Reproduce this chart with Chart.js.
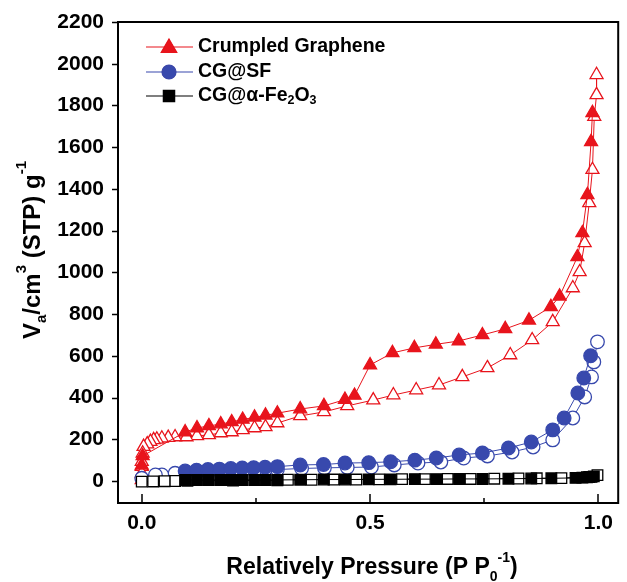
<!DOCTYPE html>
<html><head><meta charset="utf-8">
<script src="https://cdn.jsdelivr.net/npm/chart.js@4/dist/chart.umd.min.js"></script>
<style>html,body{margin:0;padding:0;background:#fff}#wrap{width:627px;height:582px}</style>
</head><body><div id="wrap"><canvas id="c" width="627" height="582"></canvas></div>
<script>
// ---- tick labels ----
const xTicks = [0, 0.25, 0.5, 0.75, 1.0];
const xTickLabels = ['0.0', '', '0.5', '', '1.0'];
const yTicks = [0, 200, 400, 600, 800, 1000, 1200, 1400, 1600, 1800, 2000, 2200];
const yTickLabels = ['0', '200', '400', '600', '800', '1000', '1200', '1400', '1600', '1800', '2000', '2200'];
const seriesNames = ['Crumpled Graphene', 'CG@SF', 'CG@\u03b1-Fe2O3'];

// ---- Crumpled Graphene ----
const cgAdsP = [0.000, 0.002, 0.095, 0.121, 0.147, 0.173, 0.197, 0.221, 0.247, 0.271, 0.297, 0.347, 0.399, 0.445, 0.466, 0.500, 0.549, 0.597, 0.644, 0.694, 0.746, 0.796, 0.848, 0.896, 0.915, 0.954, 0.965, 0.976, 0.984, 0.987];
const cgAdsV = [75, 120, 235, 254, 264, 273, 283, 295, 305, 315, 325, 345, 360, 390, 410, 556, 614, 638, 655, 671, 700, 729, 770, 835, 885, 1074, 1189, 1372, 1626, 1765];
const cgDesP = [0.996, 0.996, 0.991, 0.987, 0.980, 0.970, 0.959, 0.944, 0.900, 0.855, 0.807, 0.757, 0.702, 0.651, 0.601, 0.551, 0.507, 0.450, 0.399, 0.347, 0.297, 0.271, 0.247, 0.221, 0.197, 0.173, 0.147, 0.121, 0.098, 0.073, 0.058, 0.044, 0.033, 0.026, 0.019, 0.012, 0.004, 0.002, 0.000, 0.000, 0.000, 0.000];
const cgDesV = [1947, 1851, 1746, 1492, 1333, 1141, 1002, 925, 763, 676, 604, 542, 499, 460, 436, 412, 388, 360, 331, 312, 278, 259, 254, 245, 235, 230, 221, 216, 211, 211, 208, 205, 200, 197, 189, 177, 165, 133, 93, 69, 37, 5];

// ---- CG@SF ----
const sfAdsP = [0.095, 0.120, 0.145, 0.170, 0.195, 0.220, 0.245, 0.270, 0.297, 0.347, 0.398, 0.445, 0.497, 0.545, 0.598, 0.645, 0.695, 0.746, 0.803, 0.853, 0.900, 0.925, 0.955, 0.968, 0.983];
const sfAdsV = [48, 52, 55, 57, 60, 62, 64, 66, 69, 77, 79, 86, 88, 92, 100, 110, 125, 134, 158, 187, 245, 302, 422, 494, 600];
const sfDesP = [0.998, 0.990, 0.985, 0.970, 0.944, 0.900, 0.857, 0.811, 0.757, 0.705, 0.655, 0.605, 0.553, 0.503, 0.450, 0.400, 0.350, 0.297, 0.270, 0.247, 0.221, 0.197, 0.173, 0.147, 0.121, 0.098, 0.073, 0.044, 0.030, 0.000];
const sfDesV = [667, 571, 499, 403, 302, 197, 163, 139, 120, 110, 91, 86, 77, 67, 65, 63, 60, 55, 53, 51, 50, 48, 46, 45, 43, 42, 37, 29, 29, 13];

// ---- CG@a-Fe2O3 ----
const feAdsP = [0.095, 0.121, 0.147, 0.173, 0.197, 0.221, 0.247, 0.271, 0.297, 0.347, 0.399, 0.445, 0.497, 0.545, 0.598, 0.645, 0.695, 0.746, 0.803, 0.853, 0.897, 0.950, 0.965, 0.975, 0.985, 0.990];
const feAdsV = [5, 5, 5, 5, 5, 5, 5, 5, 5, 6, 7, 7, 8, 8, 9, 9, 10, 10, 11, 12, 13, 15, 16, 18, 20, 22];
const feDesP = [0.998, 0.980, 0.919, 0.865, 0.825, 0.772, 0.720, 0.670, 0.620, 0.570, 0.520, 0.470, 0.420, 0.372, 0.320, 0.297, 0.200, 0.100, 0.073, 0.050, 0.025, 0.000];
const feDesV = [28, 19, 14, 13, 12, 11, 10, 10, 9, 9, 8, 7, 7, 6, 6, 3, 2, 1, 0, -1, -2, -3];

const RED = '#e8141c', BLUE = '#3849ad', BLACK = '#000000';
const FONT = '"Liberation Sans", Arial, sans-serif';
const pts = (P, V) => P.map((p, i) => ({x: p, y: V[i]}));

function ds(label, P, V, color, style, filled, r, order) {
  return {
    label, data: pts(P, V), showLine: true, borderColor: color, borderWidth: 1,
    pointStyle: style, pointRadius: r, pointHoverRadius: r,
    pointBackgroundColor: filled ? color : '#ffffff', pointBorderColor: color,
    pointBorderWidth: 1.3, backgroundColor: color, order, tension: 0
  };
}

const frameAndText = {
  id: 'frameAndText',
  afterDraw(chart) {
    const ctx = chart.ctx, a = chart.chartArea, xs = chart.scales.x, ys = chart.scales.y;
    ctx.save();
    ctx.strokeStyle = '#000'; ctx.lineWidth = 2;
    ctx.strokeRect(a.left, a.top, a.right - a.left, a.bottom - a.top);
    ctx.lineWidth = 1.5;
    ctx.beginPath();
    yTicks.forEach(v => { const y = Math.round(ys.getPixelForValue(v)) + 0.5; ctx.moveTo(a.left - 6, y); ctx.lineTo(a.left, y); });
    xTicks.forEach((v, i) => { const x = Math.round(xs.getPixelForValue(v)); const L = xTickLabels[i] ? 9 : 5; ctx.moveTo(x, a.bottom); ctx.lineTo(x, a.bottom - L); });
    ctx.stroke();

    function rich(segs, cx, cy, main, small, sub, sup) {
      let w = 0;
      segs.forEach(s => { ctx.font = s[1] ? small : main; s.w = ctx.measureText(s[0]).width; w += s.w; });
      let x = cx - w / 2;
      ctx.textBaseline = 'middle'; ctx.textAlign = 'left'; ctx.fillStyle = '#000';
      segs.forEach(s => { ctx.font = s[1] ? small : main; const dy = s[1] === 1 ? sub : (s[1] === -1 ? sup : 0); ctx.fillText(s[0], x, cy + dy); x += s.w; });
    }
    // x title
    rich([['Relatively Pressure (P P', 0], ['0', 1], ['-1', -1], [')', 0]], 372, 568,
      'bold 23px ' + FONT, 'bold 14px ' + FONT, 9, -10);
    // y title
    ctx.save(); ctx.translate(33, 250); ctx.rotate(-Math.PI / 2);
    rich([['V', 0], ['a', 1], ['/cm', 0], ['3', -1], [' (STP) g', 0], ['-1', -1]], 0, 0,
      'bold 24px ' + FONT, 'bold 15px ' + FONT, 9, -11);
    ctx.restore();

    // legend
    const rows = [[47, RED, 'triangle', 9], [72, BLUE, 'circle', 7], [96, BLACK, 'rect', 8]];
    rows.forEach(r => {
      const y = r[0];
      ctx.strokeStyle = r[1]; ctx.lineWidth = 1.2; ctx.beginPath(); ctx.moveTo(146, y); ctx.lineTo(193, y); ctx.stroke();
      ctx.beginPath();
      Chart.helpers.drawPoint(ctx, {pointStyle: r[2], radius: r[3], rotation: 0, borderWidth: 1}, 169, r[2] === 'triangle' ? y + 1 : y);
      ctx.fillStyle = r[1]; ctx.fill();
    });
    const lf = 'bold 19.5px ' + FONT;
    const lfs = 'bold 12.5px ' + FONT;
    ctx.textBaseline = 'middle'; ctx.textAlign = 'left'; ctx.fillStyle = '#000';
    ctx.font = lf; ctx.fillText(seriesNames[0], 198, 47);
    ctx.fillText(seriesNames[1], 198, 72);
    let x = 198; const segs = [['CG@\u03b1-Fe', 0], ['2', 1], ['O', 0], ['3', 1]];
    segs.forEach(s => { ctx.font = s[1] ? lfs : lf; ctx.fillText(s[0], x, 96 + (s[1] ? 5 : 0)); x += ctx.measureText(s[0]).width; });
    ctx.restore();
  }
};

new Chart(document.getElementById('c'), {
  type: 'scatter',
  data: {
    datasets: [
      ds(seriesNames[2] + ' ads', feAdsP, feAdsV, BLACK, 'rect', true, 7.5, 0),
      ds(seriesNames[2] + ' des', feDesP, feDesV, BLACK, 'rect', false, 7.5, 1),
      ds(seriesNames[1] + ' ads', sfAdsP, sfAdsV, BLUE, 'circle', true, 6.8, 2),
      ds(seriesNames[1] + ' des', sfDesP, sfDesV, BLUE, 'circle', false, 6.8, 3),
      ds(seriesNames[0] + ' ads', cgAdsP, cgAdsV, RED, 'triangle', true, 7.5, 4),
      ds(seriesNames[0] + ' des', cgDesP, cgDesV, RED, 'triangle', false, 7.5, 5)
    ]
  },
  options: {
    responsive: false, animation: false, devicePixelRatio: 1,
    layout: {padding: {top: 22, right: 1, left: 0, bottom: 0}},
    plugins: {legend: {display: false}, tooltip: {enabled: false}},
    scales: {
      x: {
        type: 'linear', min: -0.052, max: 1.0434,
        afterBuildTicks: s => { s.ticks = xTicks.map(v => ({value: v})); },
        afterFit: s => { s.height = 79; s.paddingRight = 0; s.paddingLeft = 0; },
        ticks: {callback: (v, i) => xTickLabels[i], color: '#000', padding: 0, maxRotation: 0, autoSkip: false,
          font: {family: FONT, size: 21, weight: 'bold'}},
        grid: {display: false, drawTicks: true, tickLength: 8}, border: {display: false}
      },
      y: {
        type: 'linear', min: -105.4, max: 2200,
        afterBuildTicks: s => { s.ticks = yTicks.map(v => ({value: v})); },
        afterFit: s => { s.width = 118; s.paddingTop = 0; s.paddingBottom = 0; },
        ticks: {callback: (v, i) => yTickLabels[i], color: '#000', padding: 14, autoSkip: false,
          font: {family: FONT, size: 21, weight: 'bold'}},
        grid: {display: false, drawTicks: false}, border: {display: false}
      }
    }
  },
  plugins: [frameAndText]
});
</script></body></html>
